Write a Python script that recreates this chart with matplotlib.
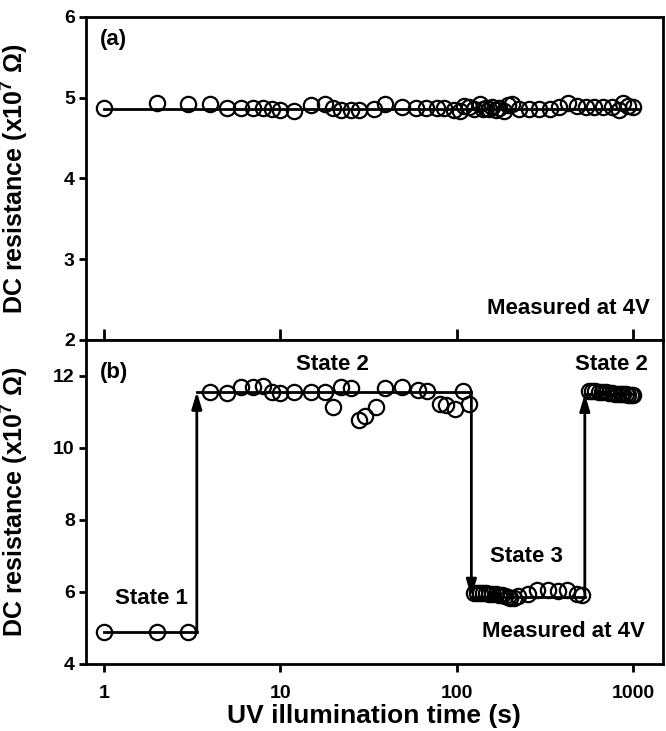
import matplotlib
matplotlib.use('Agg')
import matplotlib.pyplot as plt

plt.rcParams['mathtext.fontset'] = 'custom'
plt.rcParams['mathtext.rm'] = 'Liberation Sans:bold'
plt.rcParams['mathtext.it'] = 'Liberation Sans:bold'
plt.rcParams['mathtext.bf'] = 'Liberation Sans:bold'

FONT = ['Liberation Sans', 'DejaVu Sans']

# (a) resistance at 4V, no state change
t_a = [1, 2, 3, 4, 5, 6, 7, 8, 9, 10, 12, 15, 18, 20, 22, 25, 28, 34, 39, 49,
       59, 67, 77, 85, 97, 105, 110, 117, 125, 135, 140, 146, 152, 159, 166,
       173, 185, 194, 205, 224, 256, 294, 338, 382, 425, 481, 537, 600, 674,
       755, 835, 880, 935, 1000]
r_a = [4.87, 4.93, 4.92, 4.92, 4.87, 4.87, 4.87, 4.87, 4.86, 4.85, 4.84, 4.91,
       4.92, 4.87, 4.85, 4.85, 4.85, 4.86, 4.92, 4.88, 4.87, 4.87, 4.87, 4.87,
       4.85, 4.84, 4.90, 4.88, 4.86, 4.92, 4.86, 4.87, 4.86, 4.88, 4.85, 4.87,
       4.84, 4.91, 4.92, 4.86, 4.86, 4.86, 4.86, 4.88, 4.93, 4.89, 4.88, 4.88,
       4.88, 4.88, 4.85, 4.93, 4.90, 4.88]
fit_a_t = [1, 1070]
fit_a_r = [4.86, 4.86]

# (b) state 1
t_s1 = [1, 2, 3]
r_s1 = [4.87, 4.87, 4.87]
# state 2
t_s2 = [4, 5, 6, 7, 8, 9, 10, 12, 15, 18, 20, 22, 25, 28, 30, 35, 39, 49, 60,
        68, 80, 87, 98, 108, 117]
r_s2 = [11.56, 11.52, 11.70, 11.69, 11.72, 11.56, 11.53, 11.56, 11.56, 11.56,
        11.14, 11.70, 11.65, 10.78, 10.89, 11.14, 11.65, 11.70, 11.60, 11.58,
        11.22, 11.20, 11.08, 11.58, 11.22]
# state 3
t_s3 = [125, 130, 135, 140, 146, 152, 159, 166, 173, 180, 187, 194, 200, 210,
        222, 252, 286, 328, 373, 424, 478, 515]
r_s3 = [5.97, 5.97, 5.96, 5.96, 5.96, 5.95, 5.94, 5.93, 5.92, 5.90, 5.88, 5.86,
        5.83, 5.82, 5.89, 5.94, 6.04, 6.04, 6.01, 6.04, 5.94, 5.90]
# back to state 2
t_s2b = [560, 585, 610, 640, 670, 700, 730, 760, 790, 820, 850, 880, 910, 940,
         970, 1000]
r_s2b = [11.58, 11.58, 11.57, 11.56, 11.55, 11.54, 11.53, 11.52, 11.51, 11.50,
         11.50, 11.49, 11.49, 11.48, 11.48, 11.48]

# switching times and resistance levels of the guide line
switch_t = [1, 3.36, 121, 532, 1000]
levels = [4.87, 11.56, 5.86, 11.5]

fig = plt.figure(figsize=(6.66, 7.31), dpi=100)
ax_a = fig.add_axes([0.129, 0.535, 0.866, 0.442])
ax_b = fig.add_axes([0.129, 0.092, 0.866, 0.443])

mk = dict(marker='o', linestyle='none', markersize=11, markerfacecolor='none',
          markeredgecolor='black', markeredgewidth=1.6)

ax_a.plot(fit_a_t, fit_a_r, color='black', lw=2)
ax_a.plot(t_a, r_a, **mk)

for i in range(len(levels)):
    ax_b.plot([switch_t[i], switch_t[i + 1]], [levels[i], levels[i]],
              color='black', lw=2)
for i in range(1, len(levels)):
    ax_b.annotate('', xy=(switch_t[i], levels[i]),
                  xytext=(switch_t[i], levels[i - 1]),
                  arrowprops=dict(arrowstyle='-|>,head_length=1.0,head_width=0.3',
                                  color='black', lw=2, shrinkA=0, shrinkB=0))
for tt, rr in [(t_s1, r_s1), (t_s2, r_s2), (t_s3, r_s3), (t_s2b, r_s2b)]:
    ax_b.plot(tt, rr, **mk)

for ax in (ax_a, ax_b):
    ax.set_xscale('log')
    ax.set_xlim(0.79, 1470)
    ax.minorticks_off()
    for s in ax.spines.values():
        s.set_linewidth(2)
    ax.tick_params(axis='y', direction='out', length=5, width=2, pad=3)
    ax.set_xticks([1, 10, 100, 1000])

ax_a.set_ylim(2, 6)
ax_a.set_yticks([2, 3, 4, 5, 6])
ax_a.set_yticklabels(['2', '3', '4', '5', '6'], family=FONT, fontweight='bold', fontsize=14)
ax_a.tick_params(axis='x', direction='in', length=8, width=2, labelbottom=False)

ax_b.set_ylim(4, 13)
ax_b.set_yticks([4, 6, 8, 10, 12])
ax_b.set_yticklabels(['4', '6', '8', '10', '12'], family=FONT, fontweight='bold', fontsize=14)
ax_b.tick_params(axis='x', direction='out', length=6, width=2, pad=9)
ax_b.set_xticklabels(['1', '10', '100', '1000'], family=FONT, fontweight='bold', fontsize=14)

ylab = 'DC resistance (x10$^{7}$ \u03a9)'
for ax in (ax_a, ax_b):
    ax.set_ylabel(ylab, family=FONT, fontweight='bold', fontsize=18)
    ax.yaxis.set_label_coords(-0.097, 0.5)
ax_b.set_xlabel('UV illumination time (s)', family=FONT, fontweight='bold',
                fontsize=19, labelpad=2)

tx = dict(family=FONT, fontweight='bold', fontsize=16)
ax_a.text(0.024, 0.93, '(a)', transform=ax_a.transAxes, va='center', ha='left', **tx)
ax_a.text(0.977, 0.096, 'Measured at 4V', transform=ax_a.transAxes, va='center', ha='right', **tx)
ax_b.text(0.024, 0.90, '(b)', transform=ax_b.transAxes, va='center', ha='left', **tx)
ax_b.text(0.428, 0.923, 'State 2', transform=ax_b.transAxes, va='center', ha='center', **tx)
ax_b.text(0.912, 0.923, 'State 2', transform=ax_b.transAxes, va='center', ha='center', **tx)
ax_b.text(0.764, 0.33, 'State 3', transform=ax_b.transAxes, va='center', ha='center', **tx)
ax_b.text(0.113, 0.20, 'State 1', transform=ax_b.transAxes, va='center', ha='center', **tx)
ax_b.text(0.97, 0.099, 'Measured at 4V', transform=ax_b.transAxes, va='center', ha='right', **tx)

fig.savefig('out.png', dpi=100)
